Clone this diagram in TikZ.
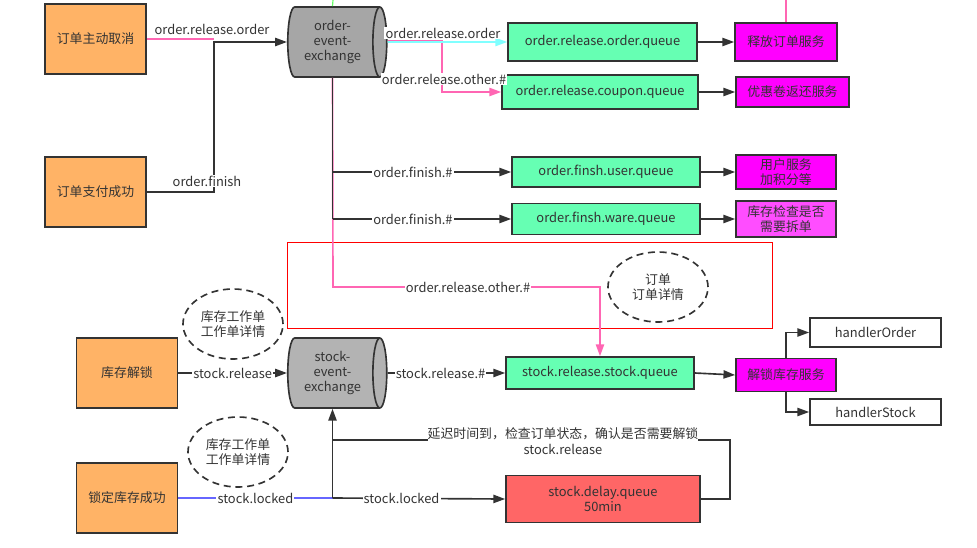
\documentclass[tikz,border=0pt]{standalone}
\usepackage{fontspec}
\setmainfont{Noto Sans CJK SC}
\usepackage{tikz}
\usetikzlibrary{arrows.meta, positioning, calc, shapes.geometric}
\usepackage{xcolor}
\definecolor{linegray}{RGB}{51,51,51}
\definecolor{boxorange}{RGB}{255,179,102}
\definecolor{queuegreen}{RGB}{102,255,179}
\definecolor{svcmagenta}{RGB}{255,0,255}
\definecolor{svclight}{RGB}{255,77,255}
\definecolor{delayred}{RGB}{255,102,102}
\definecolor{exgray}{RGB}{166,166,166}
\definecolor{exlight}{RGB}{179,179,179}
\definecolor{hotpink}{RGB}{255,102,179}
\definecolor{skycyan}{RGB}{128,255,255}
\definecolor{lockblue}{RGB}{102,102,255}
\definecolor{topgreen}{RGB}{102,255,102}

\begin{document}
\begin{tikzpicture}[x=0.03cm, y=-0.03cm, font=\fontsize{11}{13}\selectfont, text=linegray,
  box/.style={draw=linegray, line width=1.4pt, align=center, inner sep=1pt},
  srcbox/.style={box, fill=boxorange, minimum width=3.03cm, minimum height=2.1cm},
  qbox/.style={box, fill=queuegreen, minimum height=0.96cm},
  svcbox/.style={box, fill=svcmagenta, minimum width=3cm},
  exch/.style={cylinder, draw=linegray, line width=1.4pt, shape aspect=0.3, cylinder uses custom fill,
    cylinder body fill=#1, cylinder end fill=#1, minimum height=2.97cm, minimum width=2.1cm, align=center, inner sep=1pt},
  cloud/.style={ellipse, draw=linegray, line width=1.4pt, dash pattern=on 6pt off 4pt, minimum width=3cm, minimum height=2.1cm, align=center, inner sep=0pt},
  conn/.style={draw=linegray, line width=1.4pt},
  arr/.style={-{Triangle[length=10pt,width=7pt]}},
  lbl/.style={fill=white, inner sep=1pt, text=linegray}]
  \useasboundingbox (0,0) rectangle (977,547);

  % sources
  \node[srcbox] (cancel) at (95.5,39) {订单主动取消};
  \node[srcbox] (paid) at (95.5,192) {订单支付成功};
  \node[srcbox] (unlock) at (127,373) {库存解锁};
  \node[srcbox] (locked) at (127,498) {锁定库存成功};

  % exchanges
  \node[exch=exgray] (oex) at (332.5,42) {order-\\event-\\exchange};
  \node[exch=exlight] (sex) at (332.5,373) {stock-\\event-\\exchange};

  % queues
  \node[qbox, minimum width=5.67cm, minimum height=1.14cm] (qorder) at (602.5,42) {order.release.order.queue};
  \node[qbox, minimum width=5.88cm, minimum height=1.02cm] (qcoupon) at (600,92) {order.release.coupon.queue};
  \node[qbox, minimum width=5.64cm, minimum height=0.9cm] (quser) at (606,172) {order.finsh.user.queue};
  \node[qbox, minimum width=5.64cm, minimum height=0.93cm] (qware) at (606,219) {order.finsh.ware.queue};
  \node[qbox, minimum width=5.64cm] (qstock) at (600,373) {stock.release.stock.queue};
  \node[box, fill=delayred, minimum width=5.82cm, minimum height=1.41cm] (qdelay) at (603,499) {stock.delay.queue\\50min};

  % services
  \node[svcbox, minimum width=3.06cm, minimum height=1.14cm] (srelease) at (786,42) {释放订单服务};
  \node[svcbox, minimum width=3.39cm, minimum height=0.9cm] (scoupon) at (792.5,92) {优惠卷返还服务};
  \node[svcbox, minimum height=1.02cm] (suser) at (786,172) {用户服务\\加积分等};
  \node[svcbox, fill=svclight, minimum height=1.08cm] (sware) at (786,219) {库存检查是否\\需要拆单};
  \node[svcbox, minimum height=0.99cm] (sunlock) at (786,375) {解锁库存服务};
  \node[box, fill=white, minimum width=3.93cm, minimum height=0.87cm] (horder) at (875.5,332.5) {handlerOrder};
  \node[box, fill=white, minimum width=3.93cm, minimum height=0.78cm] (hstock) at (875.5,412) {handlerStock};

  % notes
  \node[cloud] (noteA) at (233,324) {库存工作单\\工作单详情};
  \node[cloud] (noteB) at (238,452) {库存工作单\\工作单详情};
  \node[cloud] (noteC) at (658,287) {订单\\订单详情};
  \draw[red, line width=0.7pt] (287,242) rectangle (772,328);

  \coordinate (join) at (214,42);
  \coordinate (split) at (442,42);
  \coordinate (turn) at (333,287);
  \coordinate (back) at (730,440);
  \coordinate (topin) at (333,0);
  \coordinate (topout) at (786,0);

  % order side
  \draw[topgreen, line width=1pt] (topin) -- (oex.north);
  \draw[hotpink, line width=1.4pt] (topout) -- (srelease.north);
  \draw[hotpink, line width=1.4pt] (cancel.east) -- (cancel.east -| join);
  \draw[conn, arr] (paid.east) -- (join |- paid.east) -- (join) -- (oex.west);
  \node[lbl] (lcancel) at (212,29) {order.release.order};
  \node[lbl] (lpaid) at (207,181) {order.finish};
  \draw[hotpink, line width=1.4pt, arr] ([yshift=1pt]oex.east) -| (split) |- (qcoupon.west);
  \draw[skycyan, line width=1.4pt, arr] (oex.east) -- (qorder.west);
  \node[lbl] (lorder) at (443,33) {order.release.order};
  \node[lbl] (lother) at (444,79) {order.release.other.\#};
  \draw[hotpink, line width=1.4pt, arr] (oex.south) -- (turn) -| (qstock.north);
  \node[lbl] (lotherB) at (468,287) {order.release.other.\#};
  \draw[conn] (oex.south) -- (oex.south |- qware.west);
  \draw[conn, arr] (oex.south |- quser.west) -- (quser.west) node[lbl, pos=0.45] {order.finish.\#};
  \draw[conn, arr] (oex.south |- qware.west) -- (qware.west) node[lbl, pos=0.45] {order.finish.\#};
  \draw[conn, arr] (qorder.east) -- (srelease.west);
  \draw[conn, arr] (qcoupon.east) -- (scoupon.west);
  \draw[conn, arr] (quser.east) -- (suser.west);
  \draw[conn, arr] (qware.east) -- (sware.west);

  % stock side
  \draw[conn, arr] (unlock.east) -- (sex.west) node[lbl, midway] {stock.release};
  \draw[conn, arr] (sex.east) -- (qstock.west) node[lbl, pos=0.45] {stock.release.\#};
  \draw[conn, arr] (qstock.east) -- (sunlock.west);
  \draw[conn, arr] (sunlock.north) |- (horder.west);
  \draw[conn, arr] (sunlock.south) |- (hstock.west);
  \draw[lockblue, line width=1.4pt] (locked.east) -- (locked.east -| sex.south) node[lbl, midway] {stock.locked};
  \draw[conn, arr] (locked.east -| sex.south) -- (sex.south);
  \draw[conn, arr] (locked.east -| sex.south) -- (qdelay.west) node[lbl, pos=0.4] {stock.locked};
  \draw[conn] (qdelay.east) -| (back) -- (back -| sex.south);
  \node[lbl, align=center, inner sep=0pt] (ldelay) at (563,441) {延迟时间到，检查订单状态，确认是否需要解锁\\stock.release};
\end{tikzpicture}
\end{document}
